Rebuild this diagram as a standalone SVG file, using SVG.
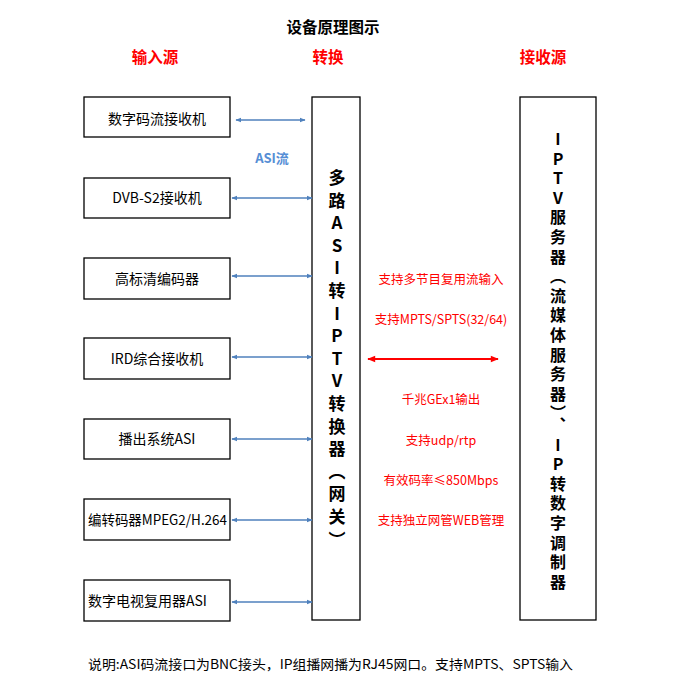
<svg xmlns="http://www.w3.org/2000/svg" width="700" height="700" viewBox="0 0 700 700">
<style>
  .box{fill:#fff;stroke:#000;stroke-width:1.3}
  .lbl{font-family:"Noto Sans CJK SC","Liberation Serif",serif;font-size:14px;fill:#000}
  .red{font-family:"Noto Sans CJK SC","Liberation Serif",serif;font-size:12.5px;fill:#f00;text-anchor:middle}
  .hdr{font-family:"Noto Sans CJK SC",sans-serif;font-size:15.5px;font-weight:bold;fill:#f00;text-anchor:middle}
  .blue{stroke:#4f81bd;stroke-width:1.5;fill:none}
  .vert{font-family:"Noto Sans CJK SC","Liberation Serif",serif;font-weight:bold;fill:#000;writing-mode:vertical-rl;text-orientation:upright}
</style>
<defs>
  <marker id="ab" viewBox="0 0 10 10" refX="9" refY="5" markerWidth="6" markerHeight="6" orient="auto-start-reverse" markerUnits="userSpaceOnUse">
    <path d="M0,1 L10,5 L0,9 z" fill="#4f81bd"/>
  </marker>
  <marker id="ar" viewBox="0 0 10 10" refX="9" refY="5" markerWidth="9" markerHeight="8" orient="auto-start-reverse" markerUnits="userSpaceOnUse">
    <path d="M0,1 L10,5 L0,9 z" fill="#f00"/>
  </marker>
</defs>
<rect width="700" height="700" fill="#fff"/>
<text x="333" y="33" text-anchor="middle" font-family="Noto Sans CJK SC,sans-serif" font-size="15.5" font-weight="bold">设备原理图示</text>
<text class="hdr" x="155" y="63">输入源</text>
<text class="hdr" x="328" y="63">转换</text>
<text class="hdr" x="543" y="63">接收源</text>

<g id="n1"><rect class="box" x="84" y="97" width="146" height="40"/><text class="lbl" x="157" y="124" text-anchor="middle">数字码流接收机</text></g>
<g id="n2"><rect class="box" x="84" y="178" width="146" height="40"/><text class="lbl" x="157" y="203" text-anchor="middle">DVB-S2接收机</text></g>
<g id="n3"><rect class="box" x="84" y="258" width="146" height="41"/><text class="lbl" x="157" y="284" text-anchor="middle">高标清编码器</text></g>
<g id="n4"><rect class="box" x="84" y="338" width="146" height="41"/><text class="lbl" x="157" y="364" text-anchor="middle">IRD综合接收机</text></g>
<g id="n5"><rect class="box" x="84" y="419" width="146" height="40"/><text class="lbl" x="157" y="444" text-anchor="middle">播出系统ASI</text></g>
<g id="n6"><rect class="box" x="84" y="499" width="146" height="41"/><text class="lbl" x="88" y="525" textLength="139" lengthAdjust="spacingAndGlyphs">编转码器MPEG2/H.264</text></g>
<g id="n7"><rect class="box" x="84" y="580" width="146" height="41"/><text class="lbl" x="88" y="606">数字电视复用器ASI</text></g>

<g id="gateway"><rect class="box" x="312" y="97" width="48" height="523"/>
<text class="vert" x="337" y="169" font-size="17" letter-spacing="5.6">多路ASI转IPTV转换器（网关）</text></g>
<g id="receiver"><rect class="box" x="520" y="97" width="76" height="523"/>
<text class="vert" x="558" y="131" font-size="16" letter-spacing="3.6">IPTV服务器（流媒体服务器）、IP转数字调制器</text></g>

<g id="connectors">
  <line class="blue" x1="236" y1="120" x2="305" y2="120" marker-start="url(#ab)" marker-end="url(#ab)"/>
  <line class="blue" x1="232" y1="198" x2="312" y2="198" marker-start="url(#ab)" marker-end="url(#ab)"/>
  <line class="blue" x1="232" y1="276" x2="312" y2="276" marker-start="url(#ab)" marker-end="url(#ab)"/>
  <line class="blue" x1="232" y1="357" x2="312" y2="357" marker-start="url(#ab)" marker-end="url(#ab)"/>
  <line class="blue" x1="232" y1="439" x2="312" y2="439" marker-start="url(#ab)" marker-end="url(#ab)"/>
  <line class="blue" x1="232" y1="520" x2="312" y2="520" marker-start="url(#ab)" marker-end="url(#ab)"/>
  <line class="blue" x1="232" y1="602" x2="312" y2="602" marker-start="url(#ab)" marker-end="url(#ab)"/>
  <line x1="368" y1="359" x2="498" y2="359" stroke="#f00" stroke-width="2" marker-start="url(#ar)" marker-end="url(#ar)"/>
</g>
<text x="272" y="163" text-anchor="middle" font-family="Noto Sans CJK SC,sans-serif" font-size="13" font-weight="bold" fill="#558ed5">ASI流</text>

<text class="red" x="441" y="284">支持多节目复用流输入</text>
<text class="red" x="441" y="324">支持MPTS/SPTS(32/64)</text>
<text class="red" x="441" y="404">千兆GEx1输出</text>
<text class="red" x="441" y="445">支持udp/rtp</text>
<text class="red" x="441" y="485">有效码率≤850Mbps</text>
<text class="red" x="441" y="525">支持独立网管WEB管理</text>

<text x="88" y="669" font-family="Noto Sans CJK SC,sans-serif" font-size="13" textLength="485" lengthAdjust="spacingAndGlyphs">说明:ASI码流接口为BNC接头，IP组播网播为RJ45网口。支持MPTS、SPTS输入</text>
</svg>
